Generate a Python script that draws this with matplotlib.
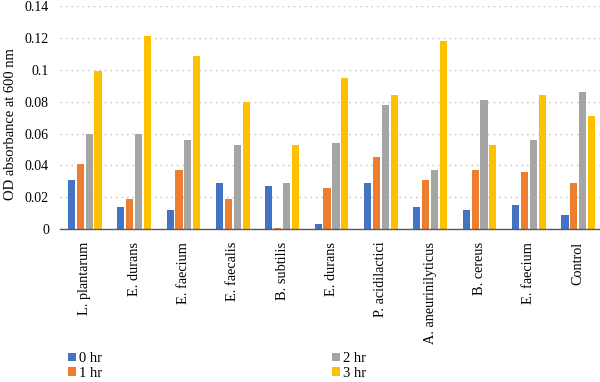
import numpy as np
import matplotlib.pyplot as plt

strains = ['L. plantarum', 'E. durans', 'E. faecium', 'E. faecalis', 'B. subtilis',
           'E. durans', 'P. acidilactici', 'A. aneurinilyticus', 'B. cereus',
           'E. faecium', 'Control']
hr0 = [0.031, 0.014, 0.012, 0.029, 0.027, 0.003, 0.029, 0.014, 0.012, 0.015, 0.009]
hr1 = [0.041, 0.019, 0.037, 0.019, 0.001, 0.026, 0.045, 0.031, 0.037, 0.036, 0.029]
hr2 = [0.060, 0.060, 0.056, 0.053, 0.029, 0.054, 0.078, 0.037, 0.081, 0.056, 0.086]
hr3 = [0.099, 0.121, 0.109, 0.080, 0.053, 0.095, 0.084, 0.118, 0.053, 0.084, 0.071]
series = ['0 hr', '1 hr', '2 hr', '3 hr']
colors = ['#4472C4', '#ED7D31', '#A5A5A5', '#FFC000']
yticks = [0, 0.02, 0.04, 0.06, 0.08, 0.1, 0.12, 0.14]
ytick_labels = ['0', '0.02', '0.04', '0.06', '0.08', '0.1', '0.12', '0.14']

plt.rcParams['font.family'] = ['Liberation Serif', 'DejaVu Serif']

fig = plt.figure(figsize=(6, 3.82), dpi=100)
ax = fig.add_axes([0.1, 0.40, 0.905, 0.584])

x = np.arange(len(strains))
w = 0.145
step = 0.18
for i, (vals, lab, c) in enumerate(zip([hr0, hr1, hr2, hr3], series, colors)):
    ax.bar(x + (i - 1.5) * step, vals, width=w, color=c, label=lab, zorder=3)

ax.set_xlim(-0.5, len(strains) - 0.5)
ax.set_ylim(0, 0.14)
ax.set_yticks(yticks)
ax.set_yticklabels(ytick_labels, fontsize=10)
ax.set_xticks(x)
ax.set_xticklabels(strains, rotation=90, fontsize=10.3)
ax.tick_params(axis='x', length=0, pad=9)
ax.tick_params(axis='y', length=0, pad=8)
ax.set_ylabel('OD absorbance at 600 nm', fontsize=10.5)
ax.yaxis.set_label_coords(-0.08, 0.47)

ax.grid(axis='y', color='#BFBFBF', linestyle=(0, (1, 3)), linewidth=1, zorder=0)
for s in ['top', 'right', 'left']:
    ax.spines[s].set_visible(False)
ax.spines['bottom'].set_color('#595959')
ax.spines['bottom'].set_linewidth(1)
ax.spines['bottom'].set_zorder(4)

handles, labels = ax.get_legend_handles_labels()
fig.legend(handles, labels, ncol=2, loc='upper left', bbox_to_anchor=(0.113, 0.078),
           frameon=False, fontsize=10.5, handlelength=0.55, handleheight=0.55,
           handletextpad=0.2, columnspacing=15.8, labelspacing=0.1, borderaxespad=0,
           borderpad=0)

fig.savefig('out.png', dpi=100)
